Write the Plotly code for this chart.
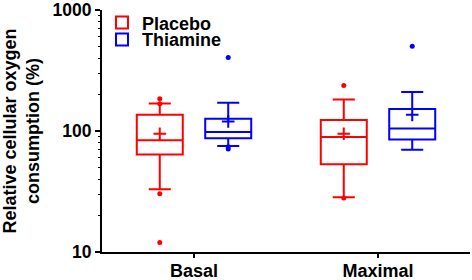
import plotly.graph_objects as go

categories = ["Basal", "Maximal"]
series = ["Placebo", "Thiamine"]
colors = {"Placebo": "#FF0000", "Thiamine": "#0000FF"}

# precomputed box statistics per series, per category
q1 = {"Placebo": [64, 53], "Thiamine": [87, 85]}
median = {"Placebo": [84, 89], "Thiamine": [98, 105]}
q3 = {"Placebo": [136, 123], "Thiamine": [126, 152]}
lowerfence = {"Placebo": [33, 28.3], "Thiamine": [75, 70]}
upperfence = {"Placebo": [169, 182], "Thiamine": [171, 210]}
means = {"Placebo": [95, 95], "Thiamine": [120, 136]}
# individual points shown outside / at the whiskers
points = {
    "Placebo": [[185, 168, 30.3, 12.0], [238, 28]],
    "Thiamine": [[405, 71, 74], [502]],
}

y_ticks = [10, 100, 1000]
y_minor = [m * d for d in (10, 100) for m in range(2, 10)]

OFFSET = {"Placebo": -0.186, "Thiamine": 0.186}
BOXW = 0.25
FONT = "Liberation Sans, Arial, sans-serif"
LEGEND_Y = {"Placebo": 0.947, "Thiamine": 0.877}
LEGEND_ID = {"Placebo": "legend", "Thiamine": "legend2"}

fig = go.Figure()
for s in series:
    xs = [i + OFFSET[s] for i in range(len(categories))]
    fig.add_trace(go.Box(
        name=s, x=xs,
        q1=q1[s], median=median[s], q3=q3[s],
        lowerfence=lowerfence[s], upperfence=upperfence[s],
        width=BOXW, whiskerwidth=0.48,
        line=dict(color=colors[s], width=2),
        fillcolor="rgba(255,255,255,0)",
        boxpoints=False, legendgroup=s, showlegend=True,
        legend=LEGEND_ID[s],
    ))
    fig.add_trace(go.Scatter(
        x=xs, y=means[s], mode="markers", showlegend=False, legendgroup=s,
        marker=dict(symbol="cross-thin", size=9, line=dict(color=colors[s], width=2)),
        hoverinfo="skip",
    ))
    px, py = [], []
    for i, vals in enumerate(points[s]):
        for v in vals:
            px.append(i + OFFSET[s])
            py.append(v)
    fig.add_trace(go.Scatter(
        x=px, y=py, mode="markers", showlegend=False, legendgroup=s,
        marker=dict(symbol="circle", size=5, color=colors[s]),
        hoverinfo="skip",
    ))

legend_common = dict(x=0.0, xanchor="left", yanchor="middle",
                     bgcolor="rgba(0,0,0,0)",
                     font=dict(family=FONT, size=18, weight="bold", color="black"))

fig.update_layout(
    width=472, height=280,
    margin=dict(l=102, r=2, t=9.5, b=27.5, autoexpand=False),
    plot_bgcolor="white", paper_bgcolor="white",
    boxmode="overlay",
    font=dict(family=FONT, size=18, color="black", weight="bold"),
    legend=dict(y=LEGEND_Y["Placebo"], **legend_common),
    legend2=dict(y=LEGEND_Y["Thiamine"], **legend_common),
    xaxis=dict(
        range=[-0.5, 1.5], tickmode="array", tickvals=list(range(len(categories))),
        ticktext=categories, showline=True, linecolor="black", linewidth=2,
        ticks="outside", ticklen=4, tickwidth=2, tickcolor="black",
        showgrid=False, zeroline=False, automargin=False,
        ticklabeloverflow="allow", ticklabelstandoff=-3,
        tickfont=dict(family=FONT, size=18, weight="bold"),
    ),
    yaxis=dict(
        type="log", range=[1, 3], tickmode="array", tickvals=y_ticks,
        ticktext=[str(v) for v in y_ticks],
        showline=True, linecolor="black", linewidth=2,
        ticks="outside", ticklen=5, tickwidth=2, tickcolor="black",
        minor=dict(tickmode="array", tickvals=y_minor, ticks="outside",
                   ticklen=2, tickwidth=1, tickcolor="black", showgrid=False),
        showgrid=False, zeroline=False, automargin=False,
        ticklabeloverflow="allow",
        tickfont=dict(family=FONT, size=17.5, weight="bold"),
        title=dict(text="Relative cellular oxygen<br>consumption (%)",
                   font=dict(family=FONT, size=18, weight="bold"), standoff=8),
    ),
)

fig.write_html(
    "out.html",
    config={"displayModeBar": False, "staticPlot": True},
    post_script="document.body.style.margin='0';document.body.style.padding='0';"
                "document.documentElement.style.overflow='hidden';",
)
